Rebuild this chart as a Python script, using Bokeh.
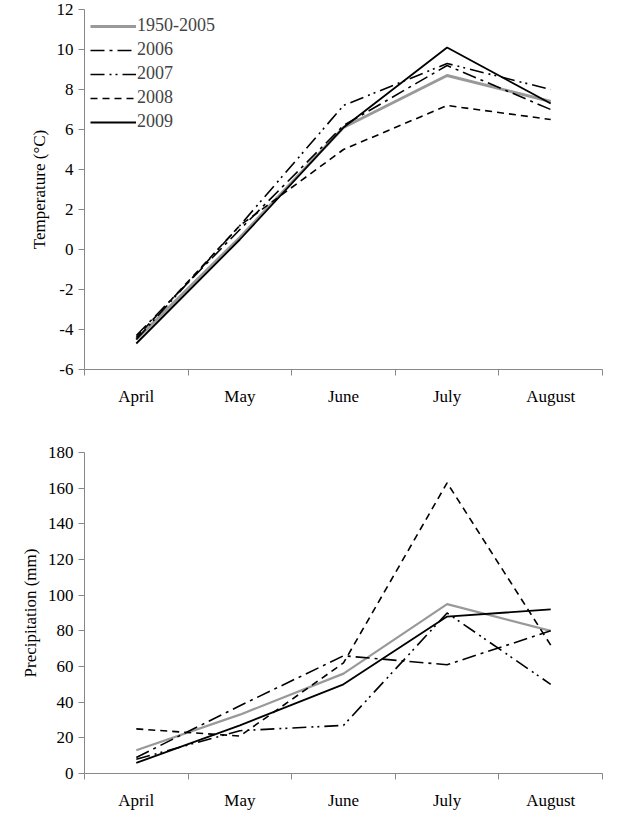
from bokeh.plotting import figure
from bokeh.layouts import column
from bokeh.models import FixedTicker, Range1d
from bokeh.embed import file_html
from bokeh.resources import INLINE

months = ['April', 'May', 'June', 'July', 'August']
series = ['1950-2005', '2006', '2007', '2008', '2009']

temp = {
    '1950-2005': [-4.5, 0.6, 6.1, 8.7, 7.4],
    '2006': [-4.3, 1.0, 6.2, 9.2, 7.0],
    '2007': [-4.5, 1.2, 7.2, 9.3, 8.0],
    '2008': [-4.4, 1.2, 5.0, 7.2, 6.5],
    '2009': [-4.7, 0.5, 6.1, 10.1, 7.3],
}
precip = {
    '1950-2005': [13, 33, 56, 95, 80],
    '2006': [9, 38, 66, 61, 80],
    '2007': [8, 24, 27, 90, 50],
    '2008': [25, 21, 62, 163, 72],
    '2009': [6, 27, 50, 88, 92],
}

styles = {
    '1950-2005': dict(color='#999999', width=3, dash='solid'),
    '2006': dict(color='black', width=1.6, dash='14 5 3 5'),
    '2007': dict(color='black', width=1.6, dash='14 5 2 4 2 5'),
    '2008': dict(color='black', width=1.6, dash='7 5'),
    '2009': dict(color='black', width=1.8, dash='solid'),
}

FONT = 'Liberation Serif'
xs = [i + 0.5 for i in range(len(months))]


def make_fig(data, ylabel, ymin, ymax, step, height, top, bottom, legend, gray_w):
    p = figure(width=615, height=height, output_backend='svg', toolbar_location=None,
               x_range=Range1d(0, len(months)), y_range=Range1d(ymin, ymax),
               min_border_left=84, min_border_right=13,
               min_border_top=top, min_border_bottom=bottom)
    p.outline_line_color = None
    p.xgrid.visible = False
    p.ygrid.visible = False
    for s in series:
        st = styles[s]
        w = gray_w if s == '1950-2005' else st['width']
        kw = dict(legend_label=s) if legend else {}
        p.line(xs, data[s], line_color=st['color'], line_width=w, line_dash=st['dash'], **kw)

    yticks = list(range(ymin, ymax + 1, step))
    p.xaxis.ticker = FixedTicker(ticks=xs, minor_ticks=list(range(len(months) + 1)))
    p.xaxis.major_label_overrides = {x: m for x, m in zip(xs, months)}
    p.yaxis.ticker = FixedTicker(ticks=yticks, minor_ticks=[])
    p.yaxis.major_label_overrides = {t: str(t) for t in yticks}
    p.xaxis.minor_tick_in = 0
    p.xaxis.minor_tick_out = 6
    p.yaxis.major_tick_in = 0
    p.yaxis.major_tick_out = 6
    p.yaxis.axis_label = ylabel
    for ax in (p.xaxis, p.yaxis):
        ax.axis_line_color = '#888888'
        ax.minor_tick_line_color = '#888888'
        ax.major_label_text_font = FONT
        ax.major_label_text_font_size = '17px'
        ax.major_label_text_font_style = 'normal'
        ax.major_label_text_color = 'black'
        ax.axis_label_text_font = FONT
        ax.axis_label_text_font_size = '17px'
        ax.axis_label_text_font_style = 'normal'
        ax.axis_label_text_color = 'black'
    p.xaxis.major_tick_line_color = None
    p.yaxis.major_tick_line_color = '#888888'
    p.xaxis.major_label_standoff = 11
    if legend:
        p.legend.location = 'top_left'
        p.legend.border_line_color = None
        p.legend.background_fill_alpha = 0
        p.legend.label_text_font = FONT
        p.legend.label_text_font_size = '18px'
        p.legend.glyph_width = 46
        p.legend.label_standoff = 1
        p.legend.spacing = 3
        p.legend.padding = 4
        p.legend.margin = 6
    return p


p1 = make_fig(temp, 'Temperature (°C)', -6, 12, 2, 409, 9, 40, True, 3)
p2 = make_fig(precip, 'Precipitation (mm)', 0, 180, 20, 403, 43, 38, False, 2.2)

p = column(p1, p2)
open("out.html", "w").write(file_html(p, INLINE))
